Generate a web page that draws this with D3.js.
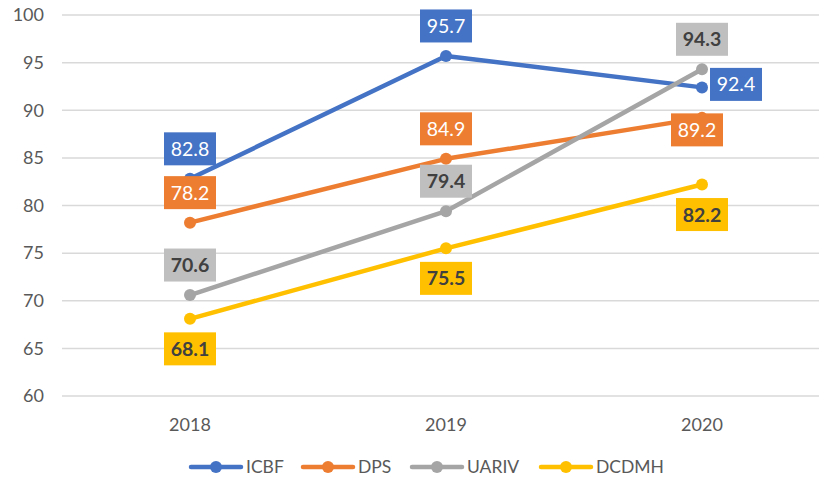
<!DOCTYPE html>
<html>
<head>
<meta charset="utf-8">
<script src="https://cdn.jsdelivr.net/npm/d3@7"></script>
<style>
  body { margin: 0; background: #fff; }
  svg { display: block; font-family: Lato, "Open Sans", sans-serif; }
</style>
</head>
<body>
<svg id="chart"></svg>
<script>
const years = ["2018", "2019", "2020"];
const seriesNames = ["ICBF", "DPS", "UARIV", "DCDMH"];
const icbf = [82.8, 95.7, 92.4];
const dps = [78.2, 84.9, 89.2];
const uariv = [70.6, 79.4, 94.3];
const dcdmh = [68.1, 75.5, 82.2];
const yTicks = [60, 65, 70, 75, 80, 85, 90, 95, 100];

// label placement per point: "above", "below", "right", "over"
const labelPos = {
  ICBF: ["above", "above", "right"],
  DPS: ["above", "above", "over"],
  UARIV: ["above", "above", "above"],
  DCDMH: ["below", "below", "below"],
};

const COLORS = { ICBF: "#4472C4", DPS: "#ED7D31", UARIV: "#A5A5A5", DCDMH: "#FFC000" };
const BOX = { ICBF: "#4472C4", DPS: "#ED7D31", UARIV: "#BFBFBF", DCDMH: "#FFC000" };
const TXT = { ICBF: "#fff", DPS: "#fff", UARIV: "#404040", DCDMH: "#404040" };
const BOLD = { ICBF: false, DPS: false, UARIV: true, DCDMH: true };

const W = 819, H = 482;
const svg = d3.select("#chart").attr("width", W).attr("height", H);

const x = d3.scalePoint().domain(years).range([190, 702]);
const y = d3.scaleLinear().domain([60, 100]).range([396, 15]);

// gridlines
svg.append("g").selectAll("line").data(yTicks).join("line")
  .attr("x1", 62).attr("x2", 830)
  .attr("y1", d => y(d)).attr("y2", d => y(d))
  .attr("stroke", "#d9d9d9").attr("stroke-width", 1.5);

// y tick labels
svg.append("g").selectAll("text").data(yTicks).join("text")
  .attr("x", 44).attr("y", d => y(d)).attr("dy", "0.35em")
  .attr("text-anchor", "end").attr("font-size", 18).attr("fill", "#595959")
  .text(d => d);

// x labels
svg.append("g").selectAll("text").data(years).join("text")
  .attr("x", d => x(d)).attr("y", 425).attr("dy", "0.35em")
  .attr("text-anchor", "middle").attr("font-size", 18).attr("fill", "#595959")
  .text(d => d);

const series = [
  { name: "ICBF", values: icbf },
  { name: "DPS", values: dps },
  { name: "UARIV", values: uariv },
  { name: "DCDMH", values: dcdmh },
];

const line = d3.line().x((d, i) => x(years[i])).y(d => y(d));

series.forEach(s => {
  svg.append("path").datum(s.values)
    .attr("d", line).attr("fill", "none")
    .attr("stroke", COLORS[s.name]).attr("stroke-width", 4.5)
    .attr("stroke-linejoin", "round");
  svg.append("g").selectAll("circle").data(s.values).join("circle")
    .attr("cx", (d, i) => x(years[i])).attr("cy", d => y(d)).attr("r", 6)
    .attr("fill", COLORS[s.name]);
});

// data labels
const bw = 52, bh = 33;
series.forEach(s => {
  s.values.forEach((v, i) => {
    const pos = labelPos[s.name][i];
    let cx = x(years[i]), cy = y(v);
    if (pos === "above") cy -= 30;
    else if (pos === "below") cy += 30;
    else if (pos === "right") { cx += 34; cy -= 3; }
    else if (pos === "over") { cx -= 5; cy += 12; }
    svg.append("rect")
      .attr("x", cx - bw / 2).attr("y", cy - bh / 2)
      .attr("width", bw).attr("height", bh).attr("fill", BOX[s.name]);
    svg.append("text")
      .attr("x", cx).attr("y", cy).attr("dy", "0.36em")
      .attr("text-anchor", "middle").attr("font-size", 19.5)
      .attr("font-weight", BOLD[s.name] ? "bold" : "normal")
      .attr("fill", TXT[s.name]).text(v.toFixed(1));
  });
});

// legend
const legendX = [191, 303, 412, 541];
const ly = 467;
seriesNames.forEach((n, i) => {
  const g = svg.append("g").attr("transform", `translate(${legendX[i]},${ly})`);
  g.append("line").attr("x1", 0).attr("x2", 50)
    .attr("stroke", COLORS[n]).attr("stroke-width", 4.5).attr("stroke-linecap", "round");
  g.append("circle").attr("cx", 25).attr("r", 6).attr("fill", COLORS[n]);
  g.append("text").attr("x", 55).attr("dy", "0.35em")
    .attr("font-size", 17.5).attr("fill", "#595959").text(n);
});
</script>
</body>
</html>
